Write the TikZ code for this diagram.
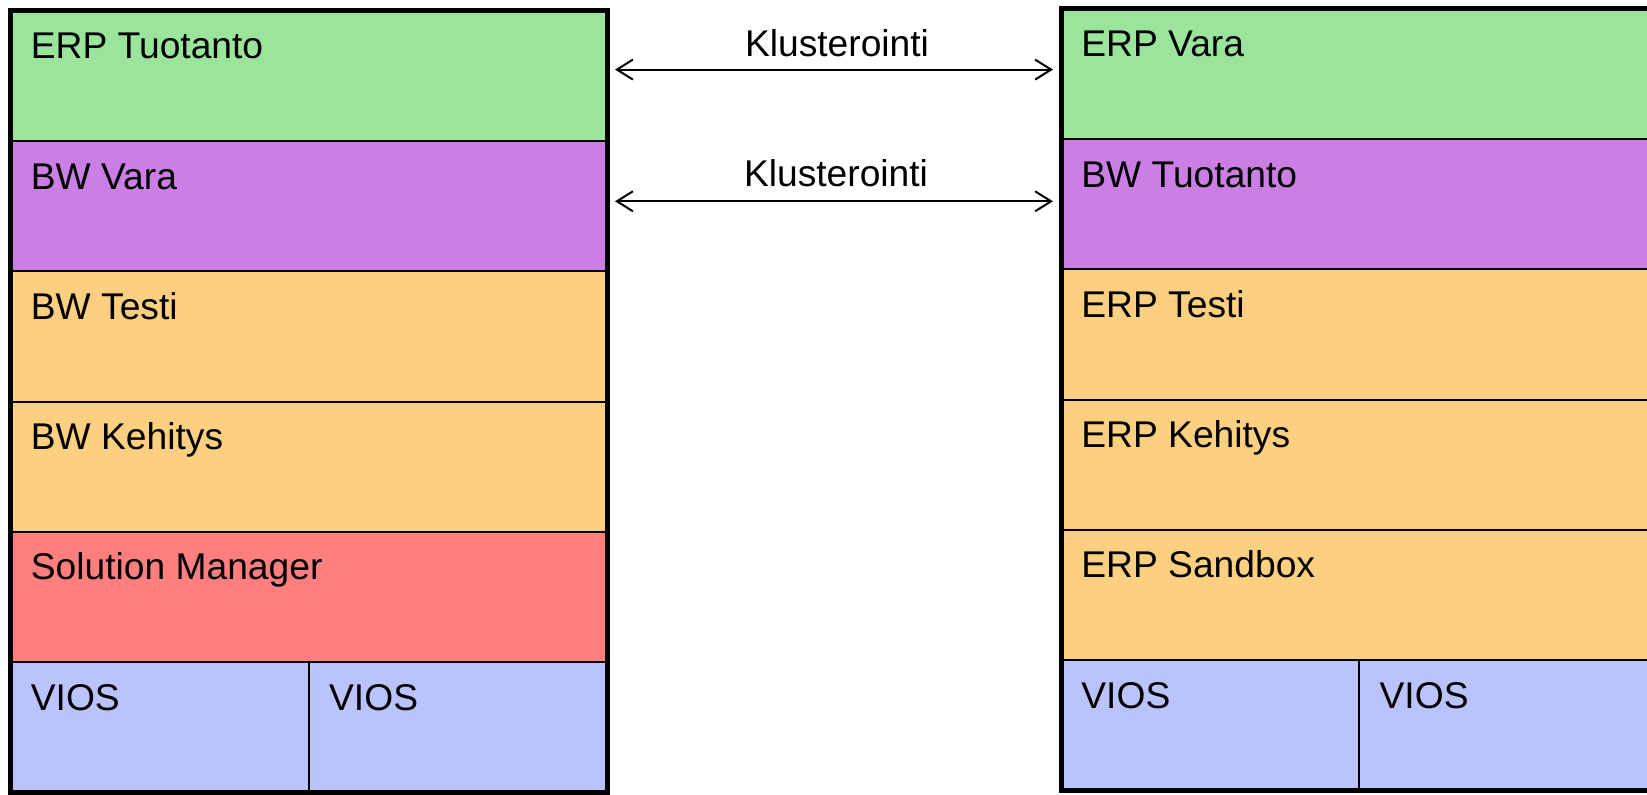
\documentclass[tikz,border=0pt]{standalone}
\usepackage{fontspec}
\setmainfont{Liberation Sans}
\usetikzlibrary{arrows.meta}

\definecolor{prodgreen}{HTML}{9AE59B}
\definecolor{bwpurple}{HTML}{CB7EE3}
\definecolor{devorange}{HTML}{FDCF80}
\definecolor{solred}{HTML}{FF7F7F}
\definecolor{viosblue}{HTML}{BAC3FB}

\tikzset{
  frame/.style={draw, line width=2.5pt},
  cluster/.style={line width=1pt,
    {Straight Barb[length=8pt,width=10pt]}-{Straight Barb[length=8pt,width=10pt]},
    shorten <=4pt, shorten >=4pt},
  txt/.style={font=\fontsize{18.6}{22}\selectfont}
}

\begin{document}
\begin{tikzpicture}[x=0.5pt,y=-0.5pt]

        \useasboundingbox (0,0) rectangle (1647,795);
        \clip (0,0) rectangle (1647,795);

        \begin{scope}[every node/.style={draw, line width=1pt, anchor=north west,
            minimum width=298.25pt, minimum height=65.1pt, inner sep=0pt, outer sep=0pt}]
          % left server
          \node[fill=prodgreen]  (lerp)   at (10.5,11)    {};
          \node[fill=bwpurple]   (lbw)    at (10.5,141.2) {};
          \node[fill=devorange]  (lbwt)   at (10.5,271.4) {};
          \node[fill=devorange]  (lbwk)   at (10.5,401.6) {};
          \node[fill=solred]     (lsol)   at (10.5,531.8) {};
          \node[fill=viosblue, minimum width=149.125pt] (lvios1) at (10.5,662) {};
          \node[fill=viosblue, minimum width=149.125pt] (lvios2) at (lvios1.north east) {};
          % right server
          \node[fill=prodgreen]  (rerp)   at (1061,9)     {};
          \node[fill=bwpurple]   (rbw)    at (1061,139.2) {};
          \node[fill=devorange]  (rerpt)  at (1061,269.4) {};
          \node[fill=devorange]  (rerpk)  at (1061,399.6) {};
          \node[fill=devorange]  (rsand)  at (1061,529.8) {};
          \node[fill=viosblue, minimum width=149.125pt] (rvios1) at (1061,660) {};
          \node[fill=viosblue, minimum width=149.125pt] (rvios2) at (rvios1.north east) {};
        \end{scope}

        \draw[frame] (lerp.north west) rectangle (lvios2.south east);
        \draw[frame] (rerp.north west) rectangle (rvios2.south east);

        \begin{scope}[every node/.style={txt, anchor=base west, inner sep=0pt}]
          \node (tlerp)   at ([shift={(20,48)}]lerp.north west)   {ERP Tuotanto};
          \node (tlbw)    at ([shift={(20,48)}]lbw.north west)    {BW Vara};
          \node (tlbwt)   at ([shift={(20,48)}]lbwt.north west)   {BW Testi};
          \node (tlbwk)   at ([shift={(20,48)}]lbwk.north west)   {BW Kehitys};
          \node (tlsol)   at ([shift={(20,48)}]lsol.north west)   {Solution Manager};
          \node (tlvios1) at ([shift={(20,48)}]lvios1.north west) {VIOS};
          \node (tlvios2) at ([shift={(20,48)}]lvios2.north west) {VIOS};
          \node (trerp)   at ([shift={(20,48)}]rerp.north west)   {ERP Vara};
          \node (trbw)    at ([shift={(20,48)}]rbw.north west)    {BW Tuotanto};
          \node (trerpt)  at ([shift={(20,48)}]rerpt.north west)  {ERP Testi};
          \node (trerpk)  at ([shift={(20,48)}]rerpk.north west)  {ERP Kehitys};
          \node (trsand)  at ([shift={(20,48)}]rsand.north west)  {ERP Sandbox};
          \node (trvios1) at ([shift={(20,48)}]rvios1.north west) {VIOS};
          \node (trvios2) at ([shift={(20,48)}]rvios2.north west) {VIOS};
        \end{scope}

        % clustering between the two servers
        \draw[cluster] ([yshift=3.25pt]lerp.east) -- ([yshift=3.25pt]lerp.east -| rerp.west)
          node[txt, midway, anchor=base, xshift=1.5pt, yshift=6.5pt, inner sep=0pt] (kl1) {Klusterointi};
        \draw[cluster] ([yshift=2.5pt]lbw.east) -- ([yshift=2.5pt]lbw.east -| rbw.west)
          node[txt, midway, anchor=base, xshift=1pt, yshift=7.5pt, inner sep=0pt] (kl2) {Klusterointi};

      \end{tikzpicture}
\end{document}
